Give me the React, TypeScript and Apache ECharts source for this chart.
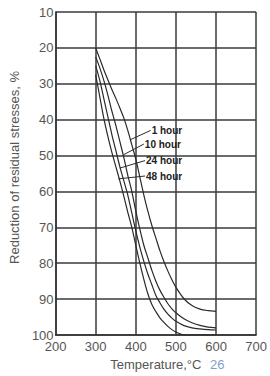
import React, { useEffect, useRef } from "react";
import * as echarts from "echarts";

const xTicks = [200, 300, 400, 500, 600, 700];
const yTicks = [10, 20, 30, 40, 50, 60, 70, 80, 90, 100];

const temps = [300, 310, 320, 330, 340, 350, 360, 370, 380, 390, 400, 410, 420, 430, 440, 450,
  460, 470, 480, 490, 500, 520, 540, 560, 580, 600];
const curve1h = [20, 23, 26, 28.8, 31.5, 34, 36.7, 39.5, 43, 47, 51, 56, 61, 65.5, 69.5, 73,
  76.5, 79.5, 82.2, 84.6, 86.7, 89.9, 91.8, 92.8, 93.2, 93.4];
const curve10h = [22.5, 25.5, 29, 33, 37.5, 41.5, 46, 50.5, 55.5, 60, 65.5, 70.5, 75, 78.5, 82, 85,
  87.5, 89.5, 91.3, 92.7, 93.8, 95.5, 96.6, 97.3, 97.8, 98];
const curve24h = [25, 29, 34, 39, 44, 48.5, 53, 57, 61, 66, 71, 75.5, 79.5, 83, 86, 89,
  91, 92.8, 94.2, 95.3, 96.2, 97.4, 98, 98.3, 98.5, 98.6];
const curve48h = [27.5, 33.5, 39.5, 44.5, 49, 53, 57, 61.3, 65.8, 70, 75, 80, 84.5, 88.5, 91.5, 93.5,
  95.2, 96.5, 97.6, 98.5, 99.2, 100, 100, 100, 100, 100];

const curveNames = ["1 hour", "10 hour", "24 hour", "48 hour"];
const leaders = [
  [[388, 45.5], [437, 43]],
  [[369, 49.8], [420, 46.8]],
  [[360, 53.5], [423, 51.4]],
  [[356, 56.5], [423, 55.7]],
];

export default function App() {
  const ref = useRef<HTMLDivElement>(null);
  useEffect(() => {
    if (!ref.current) return;
    const chart = echarts.init(ref.current, null, { renderer: "svg" });
    const font = "Liberation Sans, Arial, sans-serif";
    const curveSeries = [curve1h, curve10h, curve24h, curve48h].map((d, i) => ({
      type: "line",
      name: curveNames[i],
      data: d.map((v, j) => [temps[j], v]),
      smooth: 0.3,
      symbol: "none",
      lineStyle: { color: "#2a2a2a", width: 1.2 },
      z: 3,
    }));
    const leaderSeries = leaders.map((d, i) => ({
      type: "line",
      data: d,
      symbol: "none",
      lineStyle: { color: "#2a2a2a", width: 1 },
      endLabel: {
        show: true,
        distance: 1,
        formatter: curveNames[i],
        fontFamily: font,
        fontSize: 10,
        fontWeight: "bold",
        color: "#222",
      },
      z: 4,
    }));
    chart.setOption({
      animation: false,
      backgroundColor: "#ffffff",
      grid: { left: 49.5, right: 13, top: 12, bottom: 39 },
      xAxis: {
        type: "value",
        min: 200,
        max: 700,
        interval: 100,
        name: "Temperature,\u00b0C",
        nameLocation: "middle",
        nameGap: 23,
        nameTextStyle: { fontFamily: font, fontSize: 13, color: "#555" },
        axisLine: { show: true, lineStyle: { color: "#333", width: 1.5 } },
        axisTick: { show: false },
        axisLabel: {
          fontFamily: font,
          fontSize: 13,
          color: "#555",
          margin: 5,
          formatter: (v: number) => (xTicks.includes(v) ? String(v) : ""),
        },
        splitLine: { show: true, lineStyle: { color: "#3a3a3a", width: 1.5 } },
      },
      yAxis: {
        type: "value",
        inverse: true,
        min: 10,
        max: 100,
        interval: 10,
        name: "Reduction of residual stresses, %",
        nameLocation: "middle",
        nameGap: 31,
        nameRotate: 90,
        nameTextStyle: { fontFamily: font, fontSize: 13, color: "#555", padding: [0, 0, 0, 12] },
        axisLine: { show: true, lineStyle: { color: "#333", width: 1.5 } },
        axisTick: { show: false },
        axisLabel: {
          fontFamily: font,
          fontSize: 13,
          color: "#555",
          margin: 2,
          formatter: (v: number) => (yTicks.includes(v) ? String(v) : ""),
        },
        splitLine: { show: true, lineStyle: { color: "#3a3a3a", width: 1.5 } },
      },
      graphic: [
        {
          type: "text",
          left: 210,
          top: 358,
          style: { text: "26", fontFamily: font, fontSize: 13, fill: "#7f9fc8" },
        },
      ],
      series: [...curveSeries, ...leaderSeries],
    });
    return () => chart.dispose();
  }, []);
  return <div ref={ref} style={{ width: 270, height: 376, position: "absolute", left: 0, top: 0 }} />;
}
